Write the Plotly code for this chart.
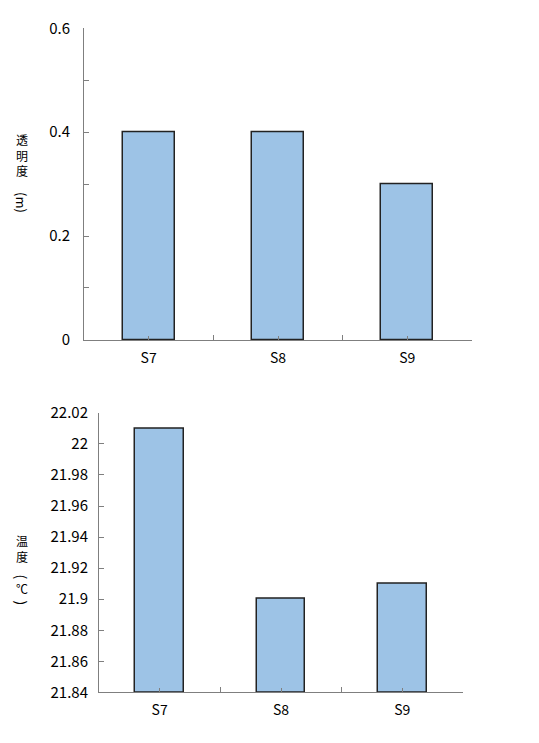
import plotly.graph_objects as go

categories = ["S7", "S8", "S9"]
transparency = [0.4, 0.4, 0.3]
temperature = [22.01, 21.90, 21.91]

top_ticks = [0, 0.2, 0.4, 0.6]
top_tick_text = ["0", "0.2", "0.4", "0.6"]
top_minor = [0.1, 0.3, 0.5]
bottom_ticks = [21.84, 21.86, 21.88, 21.90, 21.92, 21.94, 21.96, 21.98, 22.00, 22.02]
bottom_tick_text = ["21.84", "21.86", "21.88", "21.9", "21.92", "21.94", "21.96", "21.98", "22", "22.02"]
bottom_base = 21.84

# vertical axis titles: (text, rotated?, size)
top_title = [("透<br>明<br>度", False, 12), ("(m)", True, 13)]
bottom_title = [("温<br>度", False, 12), ("(", True, 14), ("℃", False, 12), (")", True, 14)]

xpos = list(range(1, len(categories) + 1))
bounds = [p - 0.5 for p in xpos] + [xpos[-1] + 0.5]

W, H = 539, 743
FONT = "Noto Sans CJK SC"
FILL = "#9DC3E6"
EDGE = "#222222"
AXIS = "#7f7f7f"

# page offset compensation (measured from render)
X0, Y0, HR = 8.0, 18.7, 722.9


def fx(px):
    return (px - X0) / W


def fy(py):
    return 1 - (py - Y0) / HR


fig = go.Figure()
fig.add_trace(go.Bar(x=xpos, y=transparency, width=0.4,
                     marker=dict(color=FILL, line=dict(color=EDGE, width=1.5)),
                     xaxis="x", yaxis="y", showlegend=False))
fig.add_trace(go.Bar(x=xpos, y=[v - bottom_base for v in temperature], base=bottom_base, width=0.4,
                     marker=dict(color=FILL, line=dict(color=EDGE, width=1.5)),
                     xaxis="x2", yaxis="y2", showlegend=False))

xcommon = dict(range=[0.5, 3.5], tickvals=xpos, ticktext=categories, showline=True, linecolor=AXIS, linewidth=1,
               ticks="inside", ticklen=4, tickcolor=AXIS, showgrid=False, zeroline=False,
               tickfont=dict(family=FONT, size=14, color="#000"), ticklabelstandoff=5,
               minor=dict(tickvals=bounds, ticks="inside", ticklen=5, tickcolor=AXIS, showgrid=False))

ycommon = dict(showline=True, linecolor=AXIS, linewidth=1, ticks="inside", ticklen=5, tickcolor=AXIS,
               showgrid=False, zeroline=False, tickfont=dict(family=FONT, size=15, color="#000"))

fig.update_layout(
    width=W, height=H, margin=dict(l=0, r=0, t=0, b=0),
    paper_bgcolor="white", plot_bgcolor="white",
    bargap=0,
    xaxis=dict(domain=[fx(84), fx(472)], anchor="y", **xcommon),
    xaxis2=dict(domain=[fx(99), fx(463)], anchor="y2", **xcommon),
    yaxis=dict(domain=[fy(339), fy(27)], anchor="x", range=[0, 0.6], tickvals=top_ticks,
               ticktext=top_tick_text, ticklabelstandoff=10,
               minor=dict(tickvals=top_minor, ticks="inside", ticklen=5, tickcolor=AXIS, showgrid=False),
               **ycommon),
    yaxis2=dict(domain=[fy(692), fy(412)], anchor="x2", range=[21.84, 22.02], tickvals=bottom_ticks,
                ticktext=bottom_tick_text, ticklabelstandoff=7, **ycommon),
)

top_title_y = [154, 201]
bottom_title_y = [548, 576, 588, 602]
for parts, ys in ((top_title, top_title_y), (bottom_title, bottom_title_y)):
    for (txt, rot, sz), yy in zip(parts, ys):
        fig.add_annotation(xref="paper", yref="paper", showarrow=False, xanchor="center", yanchor="middle",
                           x=fx(22), y=fy(yy), text=txt, textangle=90 if rot else 0,
                           font=dict(family=FONT, size=sz, color="#000"), borderpad=0)

fig.write_html("out.html")
